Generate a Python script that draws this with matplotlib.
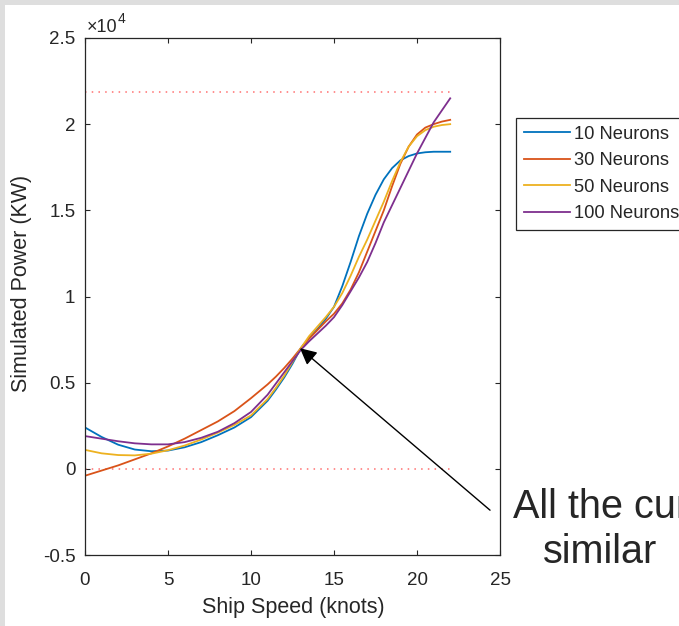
import matplotlib
matplotlib.use("Agg")
import matplotlib.pyplot as plt
from matplotlib.patches import Rectangle

plt.rcParams['font.family'] = ['Liberation Sans', 'DejaVu Sans']

# ---- data (kW) ----
speed = [0, 1, 2, 3, 4, 5, 6, 7, 8, 9, 10, 11,
         11.5, 12, 12.5, 13, 13.5, 14, 14.5, 15, 15.5, 16, 16.5, 17,
         17.5, 18, 18.5, 19, 19.5, 20, 20.5, 21, 21.5, 22]
neurons_10 = [2400, 1850, 1400, 1120, 1020, 1060, 1250, 1550, 1950, 2400, 3000, 3950,
              4600, 5300, 6100, 7000, 7600, 8100, 8700, 9400, 10600, 12000, 13500, 14800,
              15900, 16800, 17450, 17900, 18150, 18300, 18370, 18400, 18400, 18400]
neurons_30 = [-400, -100, 200, 550, 900, 1300, 1750, 2250, 2750, 3350, 4100, 4900,
              5350, 5850, 6400, 7000, 7550, 8050, 8550, 9000, 9600, 10400, 11400, 12600,
              13800, 15000, 16400, 17700, 18700, 19400, 19800, 20000, 20150, 20250]
neurons_50 = [1100, 900, 800, 780, 880, 1080, 1350, 1700, 2100, 2550, 3100, 4050,
              4700, 5400, 6200, 7000, 7700, 8250, 8800, 9400, 10200, 11200, 12300, 13300,
              14400, 15500, 16700, 17800, 18700, 19300, 19650, 19850, 19950, 20000]
neurons_100 = [1900, 1750, 1600, 1480, 1420, 1420, 1550, 1800, 2150, 2650, 3300, 4300,
               4950, 5600, 6250, 6900, 7400, 7850, 8300, 8800, 9500, 10300, 11100, 12000,
               13100, 14300, 15300, 16300, 17300, 18300, 19200, 20100, 20800, 21500]
series_labels = ['10 Neurons', '30 Neurons', '50 Neurons', '100 Neurons']
series_colors = ['#0072BD', '#D95319', '#EDB120', '#7E2F8E']
limit_lines = [21880, 0]
limit_x = [0, 22]
xticks = [0, 5, 10, 15, 20, 25]
yticks = [-5000, 0, 5000, 10000, 15000, 20000, 25000]
ytick_labels = ['-0.5', '0', '0.5', '1', '1.5', '2', '2.5']

W, H = 679, 626
fig = plt.figure(figsize=(W / 100, H / 100), dpi=100)
fig.patch.set_facecolor('white')
fig.patches.append(Rectangle((0, 1 - 5 / H), 1, 5 / H, transform=fig.transFigure,
                             facecolor='#dedede', edgecolor='none', zorder=-10))
fig.patches.append(Rectangle((0, 0), 5 / W, 1, transform=fig.transFigure,
                             facecolor='#dedede', edgecolor='none', zorder=-10))

ax = fig.add_axes([85 / W, 1 - 555 / H, 415 / W, 517 / H])
tc = '#262626'

for ys in limit_lines:
    ax.plot(limit_x, [ys, ys], color='#ff6f6f', lw=1.1, linestyle=(0, (1.0, 3.4)))

all_series = [neurons_10, neurons_30, neurons_50, neurons_100]
for vals, lab, col in zip(all_series, series_labels, series_colors):
    ax.plot(speed, vals, color=col, lw=1.3, label=lab)

ax.set_xlim(0, 25)
ax.set_ylim(-5000, 25000)
ax.set_xticks(xticks)
ax.set_xticklabels([str(t) for t in xticks])
ax.set_yticks(yticks)
ax.set_yticklabels(ytick_labels)
ax.tick_params(direction='in', length=3.6, width=0.8, colors=tc, labelsize=13.5,
               top=True, right=True)
ax.tick_params(axis='x', pad=12)
ax.tick_params(axis='y', pad=7)
for s in ax.spines.values():
    s.set_color(tc)
    s.set_linewidth(0.9)

fig.text(293 / W, 1 - 607 / H, 'Ship Speed (knots)', ha='center', va='center',
         fontsize=15.5, color=tc)
fig.text(22 / W, 1 - 283 / H, 'Simulated Power (KW)', ha='center', va='center',
         rotation=90, fontsize=15.5, color=tc)
fig.text(87 / W, 1 - 32 / H, '×10', ha='left', va='baseline', fontsize=13, color=tc)
fig.text(118 / W, 1 - 23 / H, '4', ha='left', va='baseline', fontsize=10, color=tc)

leg = ax.legend(loc='upper left', bbox_to_anchor=(516 / W, 1 - 118 / H),
                bbox_transform=fig.transFigure, fontsize=13.2, frameon=True,
                fancybox=False, framealpha=1, edgecolor=tc, borderpad=0.42,
                handlelength=2.55, handletextpad=0.2, labelspacing=0.52,
                borderaxespad=0)
leg.get_frame().set_linewidth(0.9)
for t in leg.get_texts():
    t.set_color(tc)

ax.annotate('', xy=(12.95, 7000), xytext=(24.4, -2400),
            arrowprops=dict(arrowstyle='-|>', color='black', lw=1.0,
                            mutation_scale=25, shrinkA=0, shrinkB=0),
            annotation_clip=False)

fig.text(513 / W, 1 - 518 / H, 'All the curves are', ha='left', va='baseline',
         fontsize=28.5, color=tc)
fig.text(543 / W, 1 - 563 / H, 'similar', ha='left', va='baseline',
         fontsize=28.5, color=tc)

fig.savefig('out.png', dpi=100)
